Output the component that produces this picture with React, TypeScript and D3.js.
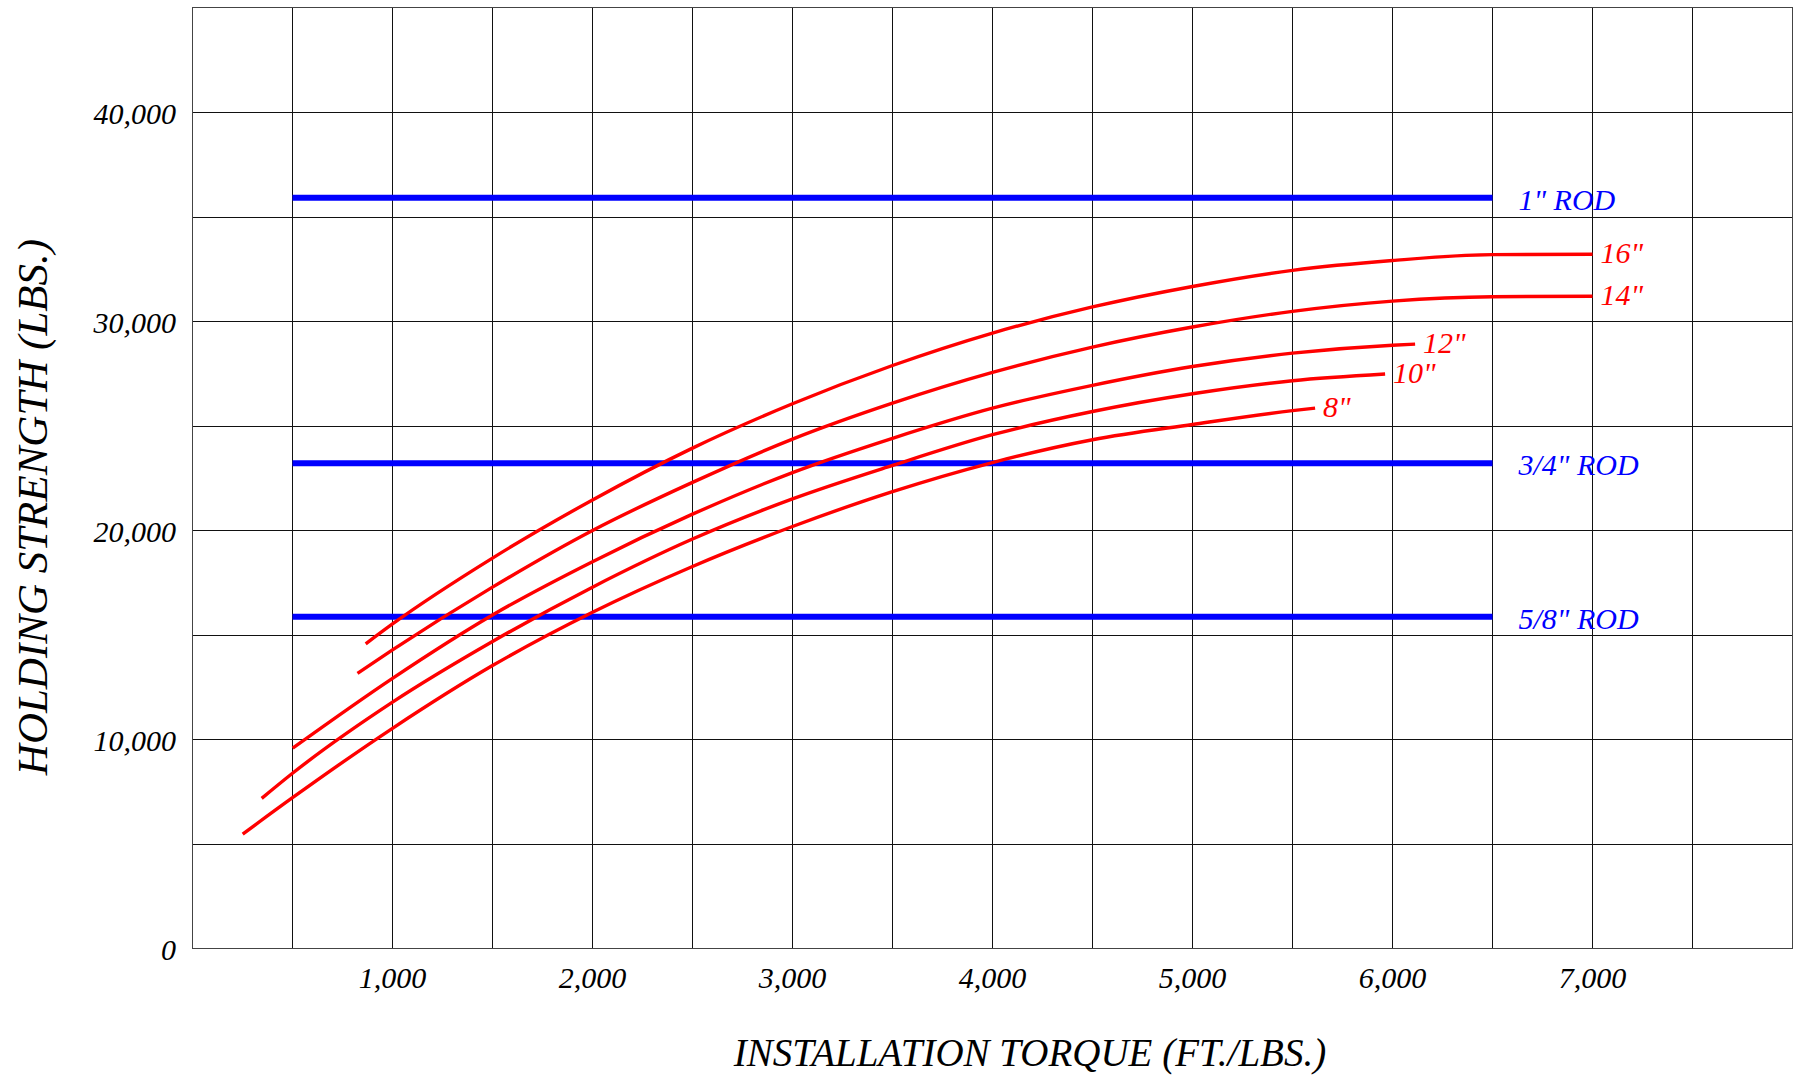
import React from 'react';
import * as d3 from 'd3';

// axis ticks
const torqueTicks = [1000, 2000, 3000, 4000, 5000, 6000, 7000];
const strengthTicks = [0, 10000, 20000, 30000, 40000];

// helix anchor curves
const anchorLabels = ['16"', '14"', '12"', '10"', '8"'];
const torque16 = [866, 1000, 1500, 2000, 2500, 3000, 3500, 4000, 4500, 5000, 5500, 6000, 6500, 7000];
const strength16 = [14570, 15520, 18670, 21450, 23930, 26050, 27880, 29430, 30680, 31660, 32430, 32900, 33180, 33200];
const torque14 = [825, 1000, 1500, 2000, 2500, 3000, 3500, 4000, 4500, 5000, 5500, 6000, 6500, 7000];
const strength14 = [13160, 14280, 17280, 19990, 22290, 24360, 26080, 27550, 28760, 29720, 30470, 30960, 31170, 31190];
const torque12 = [501, 1000, 1500, 2000, 2500, 3000, 3500, 4000, 4500, 5000, 5500, 6000, 6113];
const strength12 = [9580, 12920, 15950, 18500, 20770, 22760, 24400, 25840, 26930, 27830, 28470, 28850, 28900];
const torque10 = [346, 500, 1000, 1500, 2000, 2500, 3000, 3500, 4000, 4500, 5000, 5500, 5963];
const strength10 = [7180, 8380, 11780, 14680, 17280, 19580, 21500, 23100, 24570, 25680, 26530, 27150, 27470];
const torque8 = [251, 500, 1000, 1500, 2000, 2500, 3000, 3500, 4000, 4500, 5000, 5500, 5613];
const strength8 = [5470, 7210, 10530, 13530, 16080, 18270, 20180, 21850, 23240, 24330, 25060, 25720, 25840];

// rod limits (horizontal lines)
const rodLabels = ['1" ROD', '3/4" ROD', '5/8" ROD'];
const rodStrength = [35900, 23200, 15870];
const rodTorqueRange = [500, 6500];

const W = 1796;
const H = 1076;
const FONT = '"Liberation Serif", "Times New Roman", serif';

export default function App() {
  const x = d3.scaleLinear().domain([0, 8000]).range([192.5, 1792.5]);
  const y = d3.scaleLinear().domain([0, 45000]).range([948.5, 7.5]);

  const xGrid = d3.range(500, 8000, 500);
  const yGrid = d3.range(5000, 45000, 5000);

  const series = [
    { t: torque16, s: strength16 },
    { t: torque14, s: strength14 },
    { t: torque12, s: strength12 },
    { t: torque10, s: strength10 },
    { t: torque8, s: strength8 },
  ].map((d, i) => ({
    label: anchorLabels[i],
    pts: d.t.map((t, j) => [t, d.s[j]] as [number, number]),
  }));

  const line = d3
    .line<[number, number]>()
    .x(d => x(d[0]))
    .y(d => y(d[1]))
    .curve(d3.curveMonotoneX);

  return (
    <svg
      width={W}
      height={H}
      style={{ position: 'absolute', left: 0, top: 0, background: '#fff' }}
      fontFamily={FONT}
      fontStyle="italic"
    >
      {/* grid */}
      <g stroke="#111" strokeWidth={1} shapeRendering="crispEdges">
        {xGrid.map(v => (
          <line key={'gx' + v} x1={x(v)} x2={x(v)} y1={y(45000)} y2={y(0)} />
        ))}
        {yGrid.map(v => (
          <line key={'gy' + v} x1={x(0)} x2={x(8000)} y1={Math.round(y(v)) + 0.5} y2={Math.round(y(v)) + 0.5} />
        ))}
        <rect x={x(0)} y={y(45000)} width={x(8000) - x(0)} height={y(0) - y(45000)} fill="none" stroke="#444" />
      </g>

      {/* rod limits */}
      {rodStrength.map((v, i) => (
        <g key={rodLabels[i]}>
          <line
            x1={x(rodTorqueRange[0])}
            x2={x(rodTorqueRange[1])}
            y1={y(v)}
            y2={y(v)}
            stroke="#0000ff"
            strokeWidth={6}
          />
          <text x={x(rodTorqueRange[1]) + 26} y={y(v) + 12} fill="#0000ff" fontSize={30}>
            {rodLabels[i]}
          </text>
        </g>
      ))}

      {/* anchor curves */}
      {series.map(d => {
        const last = d.pts[d.pts.length - 1];
        return (
          <g key={d.label}>
            <path d={line(d.pts) || ''} fill="none" stroke="#ff0000" strokeWidth={3.4} />
            <text x={x(last[0]) + 8} y={y(last[1]) + 9} fill="#ff0000" fontSize={30}>
              {d.label}
            </text>
          </g>
        );
      })}

      {/* tick labels */}
      {torqueTicks.map(v => (
        <text key={'tx' + v} x={x(v)} y={988} textAnchor="middle" fontSize={30} fill="#000">
          {d3.format(',')(v)}
        </text>
      ))}
      {strengthTicks.map(v => (
        <text key={'ty' + v} x={176} y={y(v) + 11.5} textAnchor="end" fontSize={30} fill="#000">
          {d3.format(',')(v)}
        </text>
      ))}

      {/* axis titles */}
      <text x={1030} y={1066} textAnchor="middle" fontSize={39} fill="#000">
        INSTALLATION TORQUE (FT./LBS.)
      </text>
      <text
        transform={`translate(47, 507) rotate(-90)`}
        textAnchor="middle"
        fontSize={43}
        fill="#000"
      >
        HOLDING STRENGTH (LBS.)
      </text>
    </svg>
  );
}
